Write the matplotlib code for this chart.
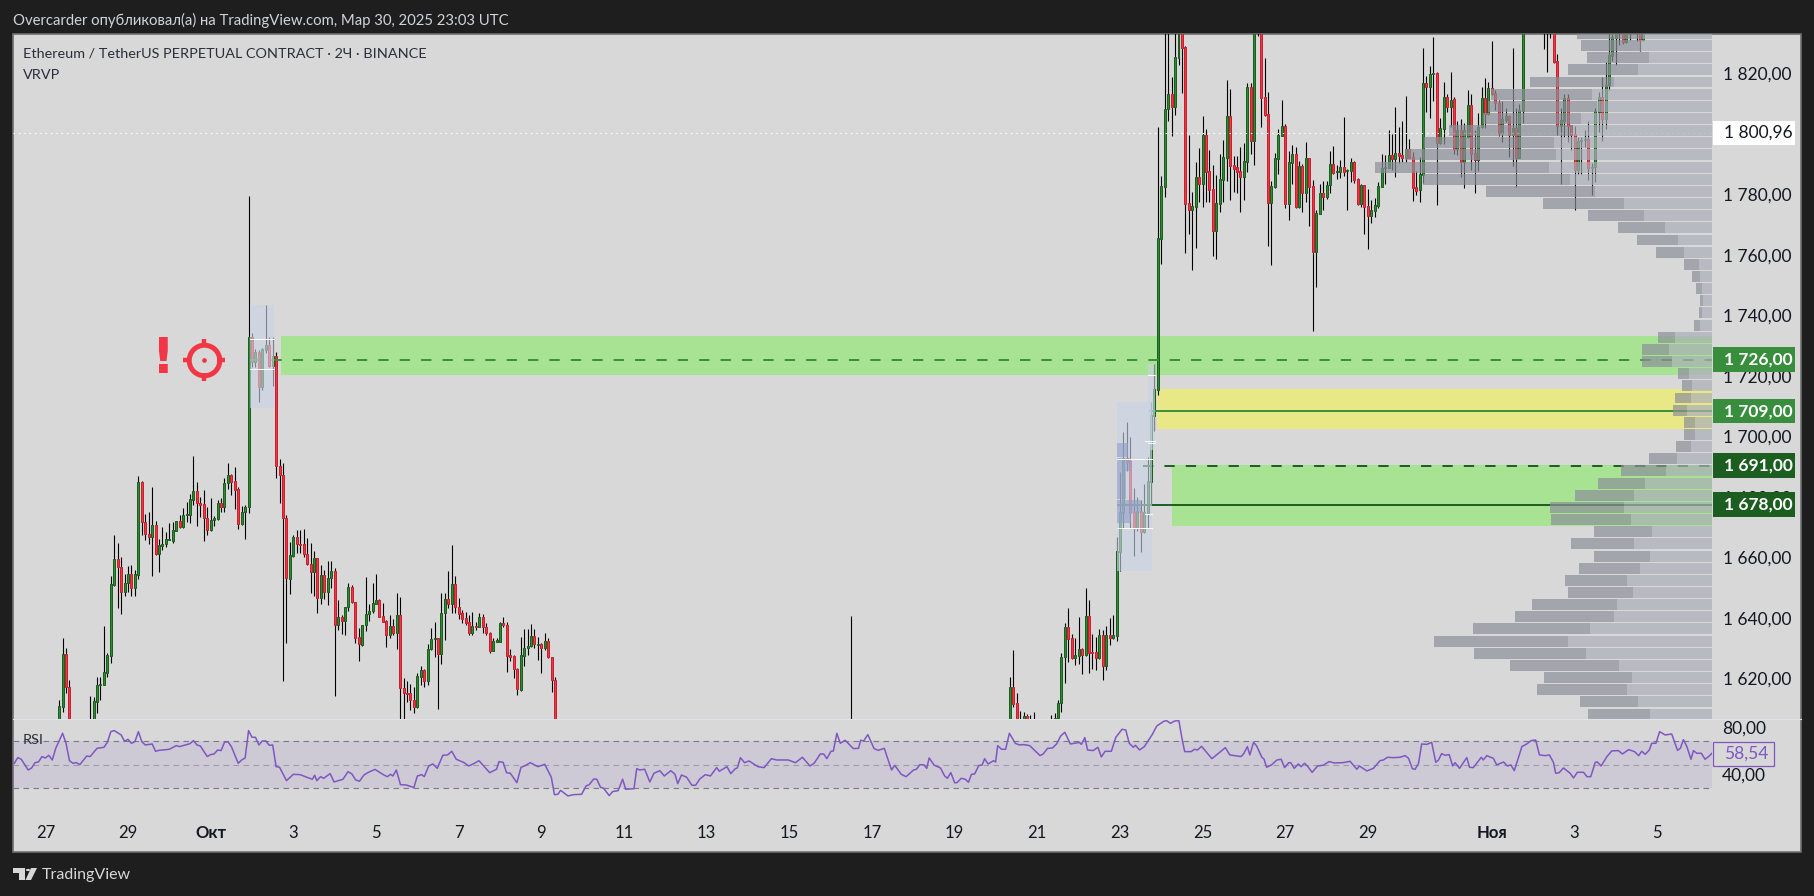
import matplotlib
matplotlib.use("Agg")
import matplotlib.pyplot as plt
import numpy as np
from matplotlib.patches import Rectangle, Polygon, Circle
from matplotlib.path import Path
from matplotlib.transforms import ScaledTranslation

plt.rcParams["font.family"] = ["Lato", "DejaVu Sans"]

W, H = 1815, 896
BG_DARK = "#1e1e1e"
BG_PANEL = "#d8d8d8"
UP = "#2e8b34"
UP_EDGE = "#1b5e20"
DOWN = "#f23645"
DOWN_EDGE = "#c4202f"
PURPLE = "#7e57c2"
INK = "#131722"

# candles as (open, high, low, close), read against the tick labels
# values outside the visible range are only there so the wick/body gets clipped
candles_a = [  # bars -44..-41
    (1600, 1613.0, 1598, 1611.0), (1610.8, 1633.5, 1609.1, 1628.2),
    (1628.2, 1630.2, 1615.4, 1617.2), (1617.2, 1619.6, 1598, 1600),
]
candles_b = [  # bars -35..10
    (1600, 1614.3, 1596, 1604), (1600, 1613.9, 1598, 1612.6), (1612.4, 1620.7, 1608.6, 1617.9),
    (1617.9, 1620.5, 1613.0, 1618.3), (1617.9, 1637.4, 1617.9, 1622.1), (1622.0, 1628.6, 1620.4, 1627.7),
    (1627.6, 1654, 1625.3, 1651.3), (1651, 1667.5, 1650.7, 1659.6), (1659.6, 1664.9, 1643.5, 1656.9),
    (1656.9, 1660.3, 1641.5, 1648.8), (1648.8, 1654.7, 1647.2, 1651.6), (1651.6, 1657.3, 1648.8, 1654.7),
    (1654.7, 1657.6, 1647.2, 1650.1), (1650.1, 1656, 1647.5, 1654.7), (1654.4, 1687.1, 1653, 1685.1),
    (1685.1, 1685.5, 1667.5, 1671.7), (1671.7, 1674.5, 1665.9, 1667.8), (1667.9, 1675.2, 1664.7, 1666.9),
    (1666.9, 1683.3, 1654.1, 1670.9), (1670.9, 1672.2, 1660.9, 1661.4), (1661.4, 1666.2, 1655.3, 1664.2),
    (1664, 1670.2, 1662.6, 1664.5), (1664.4, 1668.5, 1663.6, 1666.1), (1666, 1671.5, 1665.8, 1666.2),
    (1665.6, 1671.8, 1664.9, 1669.1), (1668.9, 1672.2, 1668.7, 1672.2), (1672.2, 1674.2, 1669.9, 1670.3),
    (1670.2, 1676.5, 1669.9, 1674.2), (1674.1, 1678.5, 1671.8, 1674.4), (1674.2, 1681.1, 1671.5, 1679.5),
    (1679.2, 1693.7, 1677.5, 1682.1), (1682.1, 1685.1, 1670.5, 1678), (1678.1, 1680.2, 1673.5, 1677.6),
    (1677.8, 1682.4, 1665.6, 1673), (1673, 1676.8, 1667.5, 1669.2), (1669.2, 1679.8, 1668.9, 1672.4),
    (1672.4, 1673.8, 1670.5, 1673), (1672.8, 1679.1, 1672.5, 1678.1), (1678.1, 1679.8, 1675.2, 1676.8),
    (1676.9, 1686.4, 1675.2, 1684.7), (1684.6, 1691.4, 1682.8, 1687.4), (1687.4, 1687.7, 1680.8, 1685.1),
    (1685.4, 1690, 1676.1, 1682.4), (1682.8, 1683.4, 1669.5, 1671.2), (1671.2, 1677.1, 1670.9, 1675.2),
    (1675, 1677.5, 1666.2, 1676.7),
]
candles_c = [  # bars 11..100
    (1676.7, 1779.6, 1674.9, 1732.9), (1732.9, 1734.2, 1723.2, 1724.8), (1724.8, 1729, 1723, 1728.2),
    (1728.2, 1728.7, 1711.6, 1716.6), (1716.6, 1729.5, 1715.5, 1728.9), (1728.7, 1743.6, 1727.6, 1730.4),
    (1730.4, 1733.1, 1723.2, 1723.4), (1723.4, 1733.1, 1716.8, 1726.7), (1726.7, 1728.2, 1686.4, 1690.2),
    (1690.4, 1692.6, 1678.2, 1687.3), (1687.3, 1691.4, 1619.4, 1673), (1673, 1674.2, 1631.9, 1653.2),
    (1653.1, 1665.1, 1648.1, 1660.8), (1660.7, 1667.5, 1660.4, 1666.9), (1666.9, 1669.2, 1661.5, 1664.5),
    (1664.6, 1669.2, 1661.5, 1664.3), (1664.6, 1669.5, 1660.4, 1661.2), (1661.2, 1666.6, 1657.6, 1657.8),
    (1657.8, 1664.8, 1648.5, 1655.2), (1655.2, 1662.3, 1647.2, 1659.8), (1659.8, 1659.9, 1641.6, 1646.8),
    (1646.8, 1657.6, 1644.7, 1654.3), (1654.3, 1656, 1646.4, 1648.8), (1648.8, 1658.9, 1644.4, 1653.2),
    (1653.2, 1658.9, 1649.9, 1655.6), (1655.6, 1656.5, 1614.4, 1637.6), (1637.6, 1646, 1636.1, 1640.3),
    (1640.3, 1641.1, 1634.8, 1639.2), (1639.2, 1643.8, 1634.5, 1643.6), (1643.6, 1651.7, 1642.5, 1650.4),
    (1650.4, 1651, 1645, 1645.3), (1645.4, 1645.4, 1631.7, 1633.6), (1633.8, 1636.8, 1625.7, 1631.4),
    (1631.1, 1637.7, 1630.8, 1637.7), (1637.6, 1653.7, 1635.9, 1641.4), (1641.3, 1644.7, 1639.1, 1642.4),
    (1642.3, 1651.7, 1641.6, 1645), (1644.8, 1654.6, 1644.7, 1645.9), (1645.9, 1646.3, 1640.4, 1640.5),
    (1640.6, 1644.9, 1638.6, 1638.9), (1639, 1639.4, 1630.5, 1634.5), (1634.6, 1641.1, 1633.5, 1637.3),
    (1637.3, 1639.8, 1634.5, 1635), (1635, 1648.4, 1629.8, 1641), (1641, 1647, 1600, 1616.8),
    (1616.8, 1620.1, 1600, 1615.2), (1615.2, 1619.1, 1612.4, 1615), (1615.2, 1618.3, 1609.6, 1612.8),
    (1612.9, 1617.4, 1608.6, 1610.6), (1610.6, 1621.8, 1610.2, 1620.8), (1620.7, 1624.2, 1617.9, 1622.8),
    (1622.8, 1623.3, 1617.4, 1619.4), (1619.4, 1631.4, 1617.9, 1629.7), (1629.7, 1636.8, 1629.5, 1633.1),
    (1633, 1638.8, 1627.3, 1633.4), (1633.4, 1633.4, 1610, 1628.3), (1628.3, 1648.4, 1624.9, 1641.6),
    (1641.6, 1648.4, 1632.8, 1646.3), (1646.3, 1655.5, 1643.3, 1644.8), (1644.8, 1664.2, 1641.6, 1651.2),
    (1651.2, 1654, 1641.6, 1643.6), (1643.6, 1646.6, 1639.8, 1641.5), (1641.6, 1642.7, 1638.3, 1639.9),
    (1640, 1642.2, 1637.8, 1638.4), (1638.7, 1641.1, 1634.5, 1635.2), (1635.2, 1642.1, 1634.5, 1637.3),
    (1637.3, 1638.9, 1636.1, 1637), (1637.1, 1641.6, 1637, 1640.3), (1640.3, 1641.4, 1635, 1637),
    (1637, 1638.3, 1634.5, 1635), (1635, 1635.4, 1628.4, 1629.3), (1629.3, 1633.4, 1629, 1632.4),
    (1632.3, 1633.4, 1632, 1632.5), (1632.3, 1638.9, 1632.3, 1638.3), (1638.3, 1640.3, 1637.2, 1637.6),
    (1637.7, 1638.9, 1622.3, 1627.6), (1627.7, 1629.7, 1625.7, 1627.3), (1627.5, 1627.9, 1620.1, 1623.1),
    (1623.1, 1623.4, 1614.6, 1616.5), (1616.3, 1633.7, 1616, 1627.7), (1627.6, 1636.5, 1624.2, 1630),
    (1630, 1636.5, 1627.9, 1630.7), (1630.7, 1638.1, 1630.6, 1634), (1634, 1636.3, 1630, 1631.4),
    (1631.2, 1633.9, 1626.2, 1631.5), (1631.4, 1631.7, 1622, 1630), (1630, 1635, 1629.5, 1632.4),
    (1632.4, 1633.4, 1626.8, 1627.1), (1627.1, 1627.3, 1615.7, 1619.5), (1619.5, 1620.7, 1596, 1600),
]
candles_d = [(1590, 1640.9, 1585, 1595)]  # bar 186, lone wick
candles_e = [  # bars 232..239
    (1600, 1620.6, 1596, 1617.2), (1617.2, 1629.5, 1610.7, 1611.7), (1611.8, 1615.2, 1596, 1600),
    (1598, 1609.3, 1594, 1602), (1600, 1609, 1597, 1607.7), (1607.7, 1608.2, 1597, 1600),
    (1600, 1608, 1596, 1603), (1602, 1609, 1595, 1599),
]
candles_f = [  # bars 244..381
    (1600, 1608, 1596, 1604), (1601, 1608.5, 1598, 1607), (1607, 1612.9, 1605.8, 1611.8),
    (1611.8, 1628.4, 1609, 1627.1), (1627.1, 1638.4, 1618.6, 1637.1), (1637.1, 1643.4, 1625.5, 1633.2),
    (1633.3, 1634.7, 1626.6, 1627), (1627, 1633.5, 1624.5, 1627.8), (1627.6, 1640.4, 1624.9, 1629.8),
    (1629.8, 1630.1, 1621.6, 1627.9), (1628, 1650, 1627.5, 1640.7), (1640.7, 1646, 1621.9, 1628.5),
    (1628.7, 1634.8, 1623.2, 1628.5), (1628.8, 1633.8, 1622.9, 1627), (1627, 1636.3, 1626.5, 1634.4),
    (1634.4, 1636.1, 1619.6, 1624.3), (1624.3, 1637.4, 1622.9, 1634.4), (1634.4, 1640.1, 1631.1, 1633.6),
    (1633.5, 1641.1, 1633.1, 1634.4), (1634.2, 1666.9, 1632.5, 1662.2), (1662, 1688.4, 1655.7, 1675.1),
    (1674.9, 1701.6, 1669.7, 1692.9), (1692.9, 1704.9, 1688.7, 1691.8), (1692, 1700, 1669.7, 1674.9),
    (1675.1, 1683.1, 1660.6, 1669.7), (1669.7, 1680.1, 1668.9, 1675.4), (1675.4, 1679.1, 1661.9, 1668.6),
    (1668.4, 1684.4, 1668.1, 1675), (1674.8, 1693.2, 1669.7, 1685.3), (1685.2, 1711.5, 1677.8, 1707.1),
    (1707, 1724, 1701.9, 1715.8), (1715.6, 1802.6, 1713.8, 1765.6), (1765.4, 1786.2, 1757.2, 1782.8),
    (1782.7, 1840, 1779.4, 1808.3), (1808.3, 1840, 1804.4, 1813.4), (1813.4, 1819, 1799.5, 1809.1),
    (1809.1, 1840, 1806.4, 1825.5), (1825.4, 1840, 1823, 1836), (1837, 1840, 1813.8, 1828.7),
    (1828.9, 1829.3, 1760.8, 1777.1), (1777.2, 1799.7, 1767.1, 1775), (1775, 1780.9, 1755.2, 1776.2),
    (1776.1, 1790.9, 1762.4, 1785.9), (1785.9, 1795.5, 1777.7, 1783.6), (1783.6, 1806.1, 1776, 1799.7),
    (1799.7, 1801.8, 1777.7, 1787.5), (1787.9, 1794.9, 1777.7, 1781.6), (1782, 1789.9, 1759.8, 1768.1),
    (1768.1, 1786.6, 1758.8, 1777.3), (1777.1, 1793.5, 1774.4, 1785.3), (1784.9, 1798.2, 1777.7, 1792.5),
    (1792.2, 1818, 1784.6, 1806.1), (1806.1, 1815, 1778.3, 1789.6), (1789.9, 1792.9, 1781, 1788.6),
    (1789.2, 1792.9, 1780.6, 1787.6), (1787.9, 1795.9, 1774.4, 1785.9), (1785.9, 1797.2, 1778.3, 1791.2),
    (1790.9, 1817, 1787.6, 1815.7), (1815.7, 1817, 1793.5, 1797.8), (1797.8, 1840, 1789.9, 1836),
    (1840, 1842, 1832.6, 1838), (1837, 1840, 1802.5, 1812.1), (1812.4, 1825.3, 1806.1, 1806.4),
    (1806.8, 1814, 1763.1, 1777.3), (1777.3, 1784.6, 1756.8, 1783), (1782.6, 1793.9, 1782.3, 1792.2),
    (1791.9, 1801.8, 1786.9, 1799.8), (1799.5, 1811.4, 1799.5, 1802.8), (1802.8, 1803.5, 1775.7, 1777),
    (1777, 1794.5, 1771.7, 1790.9), (1790.6, 1796.5, 1783.6, 1793.5), (1793.5, 1795.9, 1775.7, 1776),
    (1776, 1791.2, 1775.7, 1789.6), (1789.6, 1790.2, 1774.4, 1780.6), (1780.6, 1797.5, 1777.7, 1792.2),
    (1792.2, 1792.2, 1769.7, 1782.6), (1783, 1784.9, 1735.1, 1761.1), (1761.1, 1775, 1749.7, 1774),
    (1773.7, 1783.6, 1773.7, 1780.6), (1780.6, 1784.6, 1775, 1779.3), (1779.3, 1784.6, 1778.6, 1783.3),
    (1783.3, 1794.5, 1780.6, 1790.2), (1790.2, 1796.2, 1786.9, 1787.2), (1787.6, 1789.9, 1785.3, 1787.9),
    (1787.6, 1791.6, 1785.6, 1789.2), (1789.2, 1805.8, 1786.3, 1787.6), (1788, 1788.5, 1775, 1788.2),
    (1787.9, 1792.2, 1784.3, 1790.9), (1790.9, 1791.2, 1784, 1784.9), (1785.3, 1785.6, 1776.7, 1777),
    (1777, 1783.6, 1776, 1783.3), (1783.3, 1783.3, 1767.1, 1776), (1776.3, 1782, 1762.1, 1773),
    (1773, 1778.3, 1770.7, 1775), (1774.7, 1779, 1772.7, 1776.7), (1776.3, 1784.3, 1775.7, 1783),
    (1782.6, 1793.5, 1782.6, 1788.8), (1788.9, 1793.2, 1783.6, 1789.2), (1788.9, 1801.5, 1788.9, 1793.2),
    (1793.2, 1800.2, 1788.2, 1791.9), (1791.9, 1809.1, 1785.9, 1793.9), (1793.9, 1802.5, 1790.5, 1792.9),
    (1793.2, 1804.4, 1791, 1792.2), (1792.2, 1812.7, 1791, 1795.2), (1795.2, 1798.5, 1792.2, 1792.2),
    (1792.5, 1794.3, 1778, 1782.3), (1782.6, 1787.9, 1780, 1781.3), (1781.6, 1792.6, 1777.7, 1787),
    (1786.6, 1828.6, 1784, 1817), (1817, 1819.3, 1807.4, 1815.7), (1815.7, 1822.6, 1805.4, 1820),
    (1819.9, 1832.2, 1811, 1820.3), (1820.3, 1820.7, 1776.7, 1797.2), (1797.2, 1805.4, 1796.8, 1802.1),
    (1801.8, 1817.4, 1796.8, 1812.4), (1812.4, 1813.4, 1807.4, 1809.1), (1809.1, 1820.7, 1802.6, 1811.4),
    (1811.7, 1812.4, 1793.5, 1795.2), (1795.2, 1804.4, 1793.2, 1801.5), (1801.5, 1805.1, 1785.9, 1790.9),
    (1790.9, 1803.8, 1782.3, 1801.5), (1799.3, 1814.7, 1798.7, 1809.7), (1809.7, 1813.4, 1788.2, 1793.5),
    (1793.9, 1801.5, 1780.6, 1791.6), (1791.6, 1807.1, 1787.9, 1802.5), (1802.5, 1815.7, 1802.1, 1812.1),
    (1812.1, 1818.7, 1802.1, 1806.7), (1806.7, 1817.4, 1806.4, 1815.4), (1815.4, 1830.9, 1813, 1813.4),
    (1813.7, 1814.7, 1808.1, 1810.4), (1810.4, 1811.4, 1799.5, 1800.5), (1800.5, 1811.1, 1797.5, 1805.1),
    (1804.8, 1808.7, 1804.2, 1806.1), (1806.1, 1806.4, 1792.5, 1799.8), (1799.8, 1828.6, 1789.6, 1802.1),
    (1802.1, 1808.7, 1782.5, 1792.2), (1792.2, 1810.1, 1792.1, 1808.1), (1807.8, 1840, 1803.8, 1836),
]
candles_g = [  # bars 387..412
    (1842, 1845, 1828.3, 1840), (1840, 1845, 1820.7, 1842), (1842, 1845, 1831.9, 1840),
    (1840, 1845, 1823.5, 1824), (1824.3, 1826.6, 1799.8, 1802.8), (1802.8, 1808.7, 1783.6, 1804.8),
    (1804.4, 1813.4, 1799.3, 1812.1), (1812.1, 1813.4, 1797.5, 1802.8), (1803.1, 1803.1, 1794.9, 1799.8),
    (1800.2, 1802.8, 1775, 1788.2), (1788.2, 1799.2, 1786.9, 1797.8), (1797.8, 1799.2, 1786.9, 1798.2),
    (1798.2, 1801.5, 1796, 1798.5), (1798.5, 1804.4, 1785, 1788.9), (1788.8, 1790.5, 1780, 1789.2),
    (1789.2, 1808.7, 1784.3, 1807.8), (1807.4, 1814, 1800.8, 1812.4), (1812.4, 1819.1, 1797.8, 1805.1),
    (1805.1, 1824, 1801.8, 1816.4), (1816.4, 1834, 1814.7, 1826.3), (1826, 1833.2, 1824.3, 1832.2),
    (1831.9, 1840, 1823, 1836), (1840, 1845, 1829.6, 1838), (1838, 1842, 1829.9, 1830.6),
    (1830.6, 1842, 1830.1, 1838), (1840, 1842, 1831.2, 1838),
]
candles_h = [  # bars 414..416
    (1840, 1842, 1830.9, 1838), (1838, 1842, 1827.6, 1831.2), (1831.2, 1842, 1830.9, 1838),
]
candle_bars = (list(range(-44, -40)) + list(range(-35, 11)) + list(range(11, 101)) + [186]
               + list(range(232, 240)) + list(range(244, 382)) + list(range(387, 413))
               + list(range(414, 417)))
# the scale's tick labels sit half a unit above their real level,
# so anything read against them comes out half a unit low
candle_offset = 0.5

# session volume profile, bottom row first
vp_bottom = 1606.8
vp_step = 4.02
vol_up = [62, 74, 85, 80, 93, 126, 144, 122, 98, 95, 79, 85, 72, 62, 78, 60, 81, 88, 78, 67, 46, 35, 20.5, 17, 17,
          25, 21, 20, 23, 40, 43, 37, 12, 10, 9, 10, 12, 13, 28, 34, 47, 68, 88, 117, 142, 163, 156, 158, 139, 131,
          115, 120, 98, 74, 63, 72, 69]
vol_down = [62, 58, 90, 88, 109, 112, 134, 117, 99, 85, 65, 62, 61, 56, 63, 58, 80, 74, 59, 47, 45, 28, 15.5, 11, 11,
            14, 16, 10, 11, 30, 27, 17, 6, 3, 3, 6, 8, 15, 28, 41, 47, 56, 81, 109, 147, 174, 151, 130, 124, 98,
            109, 101, 84, 70, 62, 59, 66]

rsi_bars = [-57, -56, -55, -53, -52, -51, -50, -49, -48, -47, -46, -45, -43, -42, -41, -40, -39, -38, -36, -35,
            -33, -31, -30, -29, -28, -26, -25, -24, -23, -22, -21, -20, -19, -17, -16, -15, -12, -10, -9, -7,
            -6, -5, -4, -3, -1, 0, 1, 2, 3, 4, 5, 6, 8, 9, 10, 11, 12, 13, 14, 15, 16, 17, 18, 19, 20, 22, 24, 26, 28,
            29.5, 30.2, 30.8, 31.9, 32.8, 34.7, 35.8, 38.4, 39.9, 41, 42.1, 43.2, 44.5, 45.8, 47.7, 50.3, 51.3, 52.2,
            52.9, 53.9, 55.1, 56.8, 59, 60, 61.3, 62, 63.3, 64.5, 65.8, 67.4, 68.8, 70, 71.3, 73.6, 74.9, 76.2, 77.9,
            81, 83, 83.7, 84.9, 85.9, 87, 88.9, 90.1, 91.1, 92.8, 95, 97, 98.9, 99.8, 100.8, 101.6, 103.7, 105.4,
            107.7, 109, 109.9, 111.2, 112.1, 113.2, 114.1, 115.7, 116.7, 118.3, 119.6, 120.5, 122.9, 123.7, 124.6,
            126, 127.5, 128.7, 130.4, 131.7, 133.6, 134.8, 135.6, 136.7, 138.2, 139.7, 140.8, 142,
            143.6, 145.1, 146.9, 147.7, 149.9, 151, 152.3, 152.9, 153.8, 155, 156.3, 158.9, 160.7, 162.8, 164.3,
            167.7, 169.8, 171.8, 174, 175.2, 177, 178, 178.9, 180.1, 180.8, 181.8, 182.8, 184.2, 186.6, 188.1, 188.7,
            189.6, 190.8, 192.6, 193.8, 195.6, 196.2, 197.7, 198.6, 200.5, 201.9, 204.1, 204.9, 205.9, 207.1, 207.9,
            208.6, 210.1, 211.9, 213.1, 213.9, 214.9, 216, 216.7, 217.9, 219.1, 220, 220.9, 221.8, 223, 224, 224.7,
            225.7, 227.3, 227.9, 228.5, 229.6, 230.8, 231.9, 233.6, 234.8, 236, 237.8, 239.6, 240.8, 241.7, 243,
            244.4, 245.6, 246.8, 248, 249.6, 252.2, 252.8, 253.8, 254.6, 256.2, 257.6, 258.6, 259.7, 261.5, 262.8,
            264.6, 265.7, 266.7, 267.9, 268.5, 269.7, 271.1, 273.3, 274.7, 276.7, 277.5, 278.7, 279.9, 281.1, 282.1,
            282.8, 284.7, 285.6, 286.5, 287.7, 290.7, 294.6, 295.9, 299.2, 300, 301, 301.7, 302.8, 303.7, 305.2,
            305.8, 306.6, 308, 309.6, 310.8, 311.8, 313, 313.6, 314.6, 315.8, 316.6, 317.6, 318.4, 319.8, 321.4, 323,
            324.7, 326.2, 328.7, 330.8, 332.8, 333.5, 335.7, 337.6, 339.5, 340.5, 341.7, 343.4, 345.3, 346.8, 347.8,
            348.9, 349.7, 350.7, 351.6, 353.1, 354.5, 355.7, 356.5, 357.4, 358.4, 359.6, 360.6, 361.3, 362.6, 364.7,
            365.5, 366.6, 368.9, 369.5, 370.5, 372.4, 373.4, 375.4, 376.5, 377.5, 378.5, 380.7, 382.1, 383.4, 384.7,
            385.8, 387.5, 388.7, 389.9, 390.5, 391.5, 392.8, 394.7, 395.7, 396.8, 398.6, 399.6, 400.7, 402, 402.6,
            403.7, 405.4, 406.8, 408.7, 409.9, 411.7, 413.4, 414.6, 415.5, 416.5, 417.7, 418.4, 419.6, 420.7, 422.3,
            424.2, 425.9, 426.7, 427.6, 428.6, 429.8, 430.5, 431.5, 432.8, 433.9, 434.9, 436]
rsi_values = [51.3, 56.1, 54.7, 45.6, 47.3, 51.8, 52.4, 57, 55.8, 58.1, 54.1, 64, 76.8, 68.3, 53.5, 51.3, 51.8, 50.1,
              57.5, 57, 64, 64.9, 69.1, 78.2, 79.1, 75.4, 70, 71.7, 68.3, 69.7, 78.2, 69.7, 66.9, 67.7, 61.5, 62.3,
              63.2, 66.3, 65.5, 67.2, 68, 70.6, 66.9, 66, 57, 58.7, 59.2, 62.6, 62.1, 69.1, 69.7, 65.5, 51.3, 54.1,
              55.8, 79.1, 73.4, 73.4, 66.9, 70.3, 70.3, 66.6, 66.9, 48.4, 47.9, 36.5, 41.9, 41.6, 39.3,
              37.7, 41.1, 36.5, 39.9, 38.5, 42.5, 35.4, 37.7, 44.2, 42.2, 37.1, 36, 41.3, 43.6, 46.1, 41.3, 39.9, 41.9,
              40.5, 45.6, 33.1, 32.8, 30.6, 40.5, 41.6, 39.9, 49, 50.7, 47, 58.1, 58.4, 61.5, 54.7, 51.8, 49, 50.7,
              53.5, 43.3, 46.2, 52.7, 52.1, 43.3, 42.8, 34.8, 47.9, 49, 51.8, 48.4, 50.4, 39.4, 24.6, 24.9, 28.3,
              23.5, 24.6, 24.9, 32, 33.1, 37.9, 37.7, 30.8, 30, 23.8, 27.2, 28, 37.7, 29.2, 29.7, 46.7, 45.6,
              46.2, 35.4, 42.8, 45, 40.5, 45, 41.9, 34, 41.3, 39.4, 32.6, 32.6, 37.9,
              41.6, 40.5, 47.6, 44.5, 48.4, 42.5, 46.7, 47.3, 56.1, 51.8, 53.3, 48.4, 47.6, 55.2, 54.1,
              54.1, 51.8, 56.4, 49, 51.3, 59.2, 59.2, 55.2, 61.5, 61.8, 76.8, 68.3, 70.9, 63.8, 64, 70.9,
              70.3, 75.7, 63.8, 62.3, 64, 58.4, 45.6, 49.6, 41.9, 39.9, 45.6, 46.2, 50.1, 49.9, 47,
              55.8, 49.6, 47.3, 40.5, 38.5, 43.3, 34.8, 34.8, 38.5, 37.7, 35.1, 41.9, 42.2, 49.3, 49.9, 55.2,
              50.7, 53.5, 52.4, 66.3, 63.2, 63.2, 76.8, 68.3, 66.9, 67.2, 66.3, 61.2, 57.8, 59.2, 64,
              64.3, 67.7, 74.5, 77.7, 67.7, 69.1, 67.4, 73.1, 62.6, 62.1, 64.9, 56.7, 61.5, 61.5, 73.4,
              80.2, 79.6, 68.3, 64.9, 66.6, 62.6, 65.5, 75.4, 83, 87, 87.6, 85.3, 87.3, 87.6, 71.1,
              61.2, 61.2, 63.2, 62.6, 65.7, 55.2, 64.6, 58.4, 57, 59.8, 65.5, 58.4, 69.1, 66, 56.4,
              55, 47.9, 49.9, 54.1, 54.7, 47.6, 51.8, 51.8, 47, 50.7, 48.4, 51.3, 49, 43.6, 49, 49.6,
              52.7, 51.6, 51.8, 53, 46.2, 49, 44.8, 47, 53.5, 54.1, 56.4, 56.1, 56.4, 57.8, 55.5,
              46.7, 46.2, 51.3, 67.7, 67.4, 69.1, 52.1, 54.1, 59.5, 58.1, 58.7, 49, 51.8, 47, 56.1,
              47.9, 47.6, 56.4, 54.1, 57.8, 55.5, 49.9, 52.4, 49, 49.9, 45, 65.5, 67.7, 70.6, 71.1,
              58.4, 57.8, 58.4, 51.8, 42.8, 43.3, 47.3, 42.8, 38.8, 43.6, 43.6, 39.9, 39.9, 52.1, 52.4,
              49, 57, 61.8, 62.1, 59.2, 62.9, 61.2, 57.8, 61.5, 58.9, 62.6, 68.3, 68.3, 78.2, 75.4,
              76.2, 62.3, 64, 71.4, 65.5, 54.7, 62.1, 59.8, 59.8, 54.7, 57, 60.1]
rsi_levels = [70, 50, 30]

price_ticks = [1620, 1640, 1660, 1680, 1700, 1720, 1740, 1760, 1780, 1800, 1820]
rsi_ticks = [40, 80]
time_tick_bars = [-48, -24, 0, 24, 48, 72, 96, 120, 144, 168, 192, 216, 240, 264, 288, 312, 336, 372, 396, 420]
time_tick_labels = ["27", "29", "Окт", "3", "5", "7", "9", "11", "13", "15", "17", "19", "21", "23", "25",
                    "27", "29", "Ноя", "3", "5"]

last_price = 1800.96
levels = [1726, 1709, 1691, 1678]
level_starts = [11.4, 272.4, 270.7, 263.2]
level_colors = ["#388e3c", "#388e3c", "#1b5e20", "#1b5e20"]
level_dashed = [True, False, True, False]

green_zones = [(20.4, 1720.95, 1733.85), (279.0, 1671.0, 1691.1)]
yellow_zone = (274.8, 1703.1, 1716.3)
blue_boxes = [(11.3, 18.4, 1710.0, 1744.1), (263.2, 273.3, 1656.2, 1712.1), (272.2, 274.2, 1696.1, 1724.6)]
white_ticks = [(11.3, 18.4, 1732.8), (11.3, 18.4, 1722.8), (263.2, 273.3, 1693.0), (263.2, 273.3, 1670.2),
               (271.3, 273.3, 1674.9), (271.3, 274.2, 1699.0), (272.2, 274.2, 1698.4), (272.2, 274.2, 1720.8)]
mini_rows = [(1696.0, 3.0), (1691.4, 4.0), (1684.5, 2.5), (1677.5, 7.0), (1673.5, 4.0)]
mini_heights = [4.6, 4.5, 9.3, 4.4, 3.3]


def fx(px):
    return px / W


def fy(px):
    return 1 - px / H


def fmt_price(v):
    return f"{v:,.2f}".replace(",", " ").replace(".", ",")


fig = plt.figure(figsize=(W / 100, H / 100), dpi=100, facecolor=BG_DARK)

# panel behind both panes
fig.add_artist(Rectangle((fx(13), fy(851.7)), fx(1801.5 - 13), (851.7 - 34) / H, transform=fig.transFigure,
                         fc=BG_PANEL, ec="#6f6f6f", lw=1.2, zorder=-5))

ax = fig.add_axes([fx(13), fy(719.3), fx(1699), (719.3 - 34) / H])
ax.patch.set_alpha(0)
ax.set_xlim(-57.4, 435.9)
ax.set_ylim(1607.07, 1833.73)
for s in ax.spines.values():
    s.set_visible(False)

# zones
for x0, lo, hi in green_zones:
    ax.fill_between([x0, 435.9], lo, hi, color="#a8e293", lw=0, zorder=1)
ax.fill_between([yellow_zone[0], 435.9], yellow_zone[1], yellow_zone[2], color="#e8e887", lw=0, zorder=1)

# candles
ohlc = np.array(candles_a + candles_b + candles_c + candles_d + candles_e + candles_f + candles_g + candles_h,
                dtype=float) + candle_offset
bars = np.array(candle_bars, dtype=float)
opens, highs, lows, closes = ohlc.T
rising = closes >= opens
ax.vlines(bars, lows, highs, color="black", lw=0.8, zorder=2.5)
heights = np.maximum(np.abs(closes - opens), 0.35)
bottoms = np.minimum(opens, closes)
ax.bar(bars[rising], heights[rising], bottom=bottoms[rising], width=0.58, color=UP, edgecolor=UP_EDGE,
       linewidth=0.72, zorder=3)
ax.bar(bars[~rising], heights[~rising], bottom=bottoms[~rising], width=0.58, color=DOWN, edgecolor=DOWN_EDGE,
       linewidth=0.72, zorder=3)

# last price
ax.axhline(last_price, color="white", lw=0.8, linestyle=(0, (1.4, 3.4)), zorder=3.5)

# horizontal levels
for lvl, start, col, dashed in zip(levels, level_starts, level_colors, level_dashed):
    ls = (0, (5.3, 5.7)) if dashed else "-"
    ax.plot([start, 435.9], [lvl, lvl], color=col, lw=1.4, linestyle=ls, zorder=4, solid_capstyle="butt")

# blue session boxes, drawn over the candles
for x0, x1, lo, hi in blue_boxes:
    ax.add_patch(Rectangle((x0, lo), x1 - x0, hi - lo, fc="#cbd4e5", ec="none", alpha=0.62, zorder=5))
for (lvl, w), h in zip(mini_rows, mini_heights):
    ax.barh(lvl, w, left=263.2, height=h, color="#8f9fc8", alpha=0.6, zorder=5.2)
for x0, x1, lvl in white_ticks:
    ax.plot([x0, x1], [lvl, lvl], color="white", lw=0.7, zorder=6)

# alert icons
ax.text(-13.6, 1726.4, "!", color="#f23645", fontsize=36, fontweight="bold", family="DejaVu Sans",
        ha="center", va="center", zorder=6)
tick_path = Path([(0, 0.62), (0, 1), (0, -0.62), (0, -1), (0.62, 0), (1, 0), (-0.62, 0), (-1, 0)],
                 [Path.MOVETO, Path.LINETO] * 4)
ax.plot([-1.8], [1725.9], marker="o", ms=22, mfc="none", mec="#f23645", mew=3.6, zorder=6)
ax.plot([-1.8], [1725.9], marker=tick_path, ms=30, mfc="none", mec="#f23645", mew=3.2, zorder=6)
ax.plot([-1.8], [1725.9], marker="o", ms=3.4, mfc="#f23645", mec="none", zorder=6)

# price scale
ax.set_yticks(price_ticks, [fmt_price(v) for v in price_ticks])
ax.set_xticks([])
ax.yaxis.tick_right()
ax.tick_params(axis="y", length=0, pad=8.2, labelsize=12.5, labelcolor=INK)
for lbl in ax.get_yticklabels():
    lbl.set_transform(lbl.get_transform() + ScaledTranslation(0, 1.5 / 72, fig.dpi_scale_trans))

# labels on the price scale
lab_tf = ax.get_yaxis_transform()
box_w = 82 / 1699
box_h = 24.7 / 3.0235
for lvl, col in zip(levels, level_colors):
    ax.add_patch(Rectangle((1.0006, lvl - box_h / 2), box_w, box_h, transform=lab_tf, fc=col, ec="none",
                           clip_on=False, zorder=10))
    ax.text(1 + 12 / 1699, lvl, fmt_price(lvl), transform=lab_tf, color="white", fontsize=12.5, fontweight="bold",
            ha="left", va="center", clip_on=False, zorder=11)
ax.add_patch(Rectangle((1.0006, last_price - box_h / 2), box_w, box_h, transform=lab_tf, fc="white", ec="none",
                       clip_on=False, zorder=10))
ax.text(1 + 12 / 1699, last_price, fmt_price(last_price), transform=lab_tf, color=INK, fontsize=12.5, ha="left",
        va="center", clip_on=False, zorder=11)

# volume profile on its own x axis, growing leftward from the scale
ax_vp = ax.twiny()
ax_vp.set_xlim(1699, 0)
ax_vp.set_xticks([])
ax_vp.patch.set_alpha(0)
for s in ax_vp.spines.values():
    s.set_visible(False)
vp_rows = vp_bottom + vp_step * np.arange(len(vol_up)) + vp_step / 2
ax_vp.barh(vp_rows, vol_up, height=vp_step * 0.9, color="#aaaeb8", alpha=0.7, lw=0)
ax_vp.barh(vp_rows, vol_down, left=vol_up, height=vp_step * 0.9, color="#8c9099", alpha=0.7, lw=0)

# RSI pane
ax_rsi = fig.add_axes([fx(13), fy(812), fx(1699), 92.7 / H])
ax_rsi.patch.set_alpha(0)
ax_rsi.set_xlim(-57.4, 435.9)
ax_rsi.set_ylim(9.83, 88.72)
for s in ax_rsi.spines.values():
    s.set_visible(False)
ax_rsi.axhspan(rsi_levels[2], rsi_levels[0], color=PURPLE, alpha=0.1, lw=0)
ax_rsi.axhline(rsi_levels[0], color="#787b86", lw=0.8, linestyle=(0, (5, 4)))
ax_rsi.axhline(rsi_levels[1], color="#9a9ca6", lw=0.8, linestyle=(0, (5, 4)))
ax_rsi.axhline(rsi_levels[2], color="#787b86", lw=0.8, linestyle=(0, (5, 4)))
ax_rsi.plot(rsi_bars, rsi_values, color=PURPLE, lw=1.1, zorder=3)
ax_rsi.set_yticks(rsi_ticks, [f"{v:.2f}".replace(".", ",") for v in rsi_ticks])
ax_rsi.yaxis.tick_right()
ax_rsi.tick_params(axis="y", length=0, pad=7.4, labelsize=12.5, labelcolor=INK)
for lbl in ax_rsi.get_yticklabels():
    lbl.set_transform(lbl.get_transform() + ScaledTranslation(0, 1.5 / 72, fig.dpi_scale_trans))
ax_rsi.set_xticks(time_tick_bars, time_tick_labels)
ax_rsi.tick_params(axis="x", length=0, pad=9.2, labelsize=12, labelcolor=INK)
for lbl in ax_rsi.get_xticklabels():
    if not lbl.get_text().isdigit():
        lbl.set_fontweight("bold")

rsi_tf = ax_rsi.get_yaxis_transform()
rsi_box_h = 24 / 1.175
ax_rsi.add_patch(Rectangle((1.0006, 59.2 - rsi_box_h / 2), 61 / 1699, rsi_box_h, transform=rsi_tf, fc=BG_PANEL,
                           ec=PURPLE, lw=0.9, clip_on=False, zorder=10))
ax_rsi.text(1 + 12 / 1699, 59.2, "58,54", transform=rsi_tf, color=PURPLE, fontsize=12.5, ha="left", va="center",
            clip_on=False, zorder=11)

# pane separator
fig.add_artist(plt.Line2D([fx(13), fx(1801)], [fy(719.3), fy(719.3)], color="#e2e2ea", lw=0.8))

# header and legend texts
fig.text(fx(13), fy(20), "Overcarder опубликовал(а) на TradingView.com, Мар 30, 2025 23:03 UTC", color="#d1d4dc",
         fontsize=10.75, ha="left", va="center")
fig.text(fx(23), fy(53.5), "Ethereum / TetherUS PERPETUAL CONTRACT · 2Ч · BINANCE", color="#2a2e39", fontsize=10.4,
         ha="left", va="center")
fig.text(fx(23), fy(75), "VRVP", color="#2a2e39", fontsize=10.4, ha="left", va="center")
fig.text(fx(23), fy(740), "RSI", color="#2a2e39", fontsize=10.4, ha="left", va="center")

# footer logo
logo = "#d8d8d8"
fig.add_artist(Polygon([(fx(13), fy(868)), (fx(25), fy(868)), (fx(25), fy(880)), (fx(19), fy(880)), (fx(19), fy(873)),
                        (fx(13), fy(873))], transform=fig.transFigure, fc=logo, ec="none"))
fig.add_artist(Polygon([(fx(31), fy(868)), (fx(37), fy(868)), (fx(31), fy(880)), (fx(25.5), fy(880))],
                       transform=fig.transFigure, fc=logo, ec="none"))
fig.add_artist(Circle((fx(28), fy(870)), 2.2 / W, transform=fig.transFigure, fc=logo, ec="none"))
fig.text(fx(42), fy(875), "TradingView", color=logo, fontsize=11.5, ha="left", va="center")

fig.savefig("out.png", dpi=100, facecolor=fig.get_facecolor())
